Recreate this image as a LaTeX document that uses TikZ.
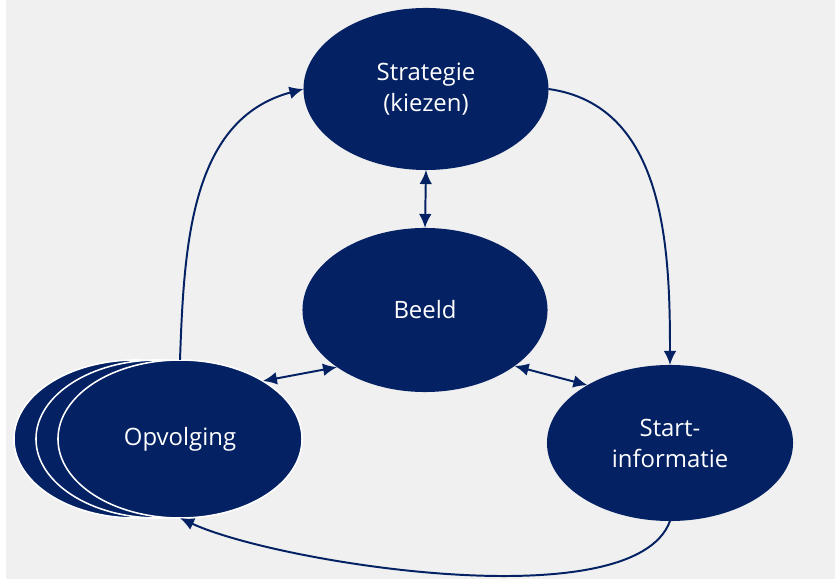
\documentclass[tikz,border=0pt]{standalone}
\usepackage{fontspec}
\setmainfont{Open Sans}
\usetikzlibrary{shapes.geometric,arrows.meta}
\definecolor{cyclenavy}{RGB}{3,33,99}
\definecolor{panelgray}{RGB}{240,240,240}

\tikzset{
  phase/.style={ellipse, fill=cyclenavy, text=white, inner sep=0pt, outer sep=0pt,
    minimum width=6.125cm, minimum height=4.05cm, align=center,
    font=\fontsize{17}{22}\selectfont},
  stackbox/.style={phase, draw=white, line width=1.1pt},
  flow/.style={draw=cyclenavy, line width=1.4pt, -{Latex[length=10pt,width=9pt]}},
  twoway/.style={flow, {Latex[length=10pt,width=9pt]}-{Latex[length=10pt,width=9pt]}}
}

\begin{document}
\begin{tikzpicture}[x=0.025cm, y=0.025cm]
    \useasboundingbox (0,0) rectangle (835,579);
    % Background
    \fill[white] (0,0) rectangle (835,579);
    \fill[panelgray] (6,0) rectangle (835,579);
    % Phases
    \node[phase] (strat) at (426,490) {Strategie\\(kiezen)};
    \node[phase, minimum height=4.1cm] (beeld) at (425,269) {Beeld};
    \node[phase, minimum width=6.15cm, minimum height=3.9cm] (start) at (670,136) {Start-\\informatie};
    % Opvolging, stacked
    \node[stackbox, minimum width=6.1cm, minimum height=3.95cm] (opvback2) at (136,140) {};
    \node[stackbox, minimum width=6.1cm, minimum height=3.95cm] (opvback1) at (158,140) {};
    \node[stackbox, minimum width=6.1cm, minimum height=3.95cm] (opv) at (180,140) {Opvolging};
    % Cycle
    \draw[flow] (opv.north) to[out=88, in=195] (strat.west);
    \draw[flow] (strat.east) to[out=-8, in=90] (start.north);
    \draw[flow] (start.south) to[out=-110, in=-25, looseness=0.55] (opv.south);
    % Links with Beeld
    \draw[twoway] (strat.south) -- (beeld.north);
    \draw[twoway] (beeld.213) -- (opv.35);
    \draw[twoway] (beeld.-32) -- (start.145);
\end{tikzpicture}
\end{document}
